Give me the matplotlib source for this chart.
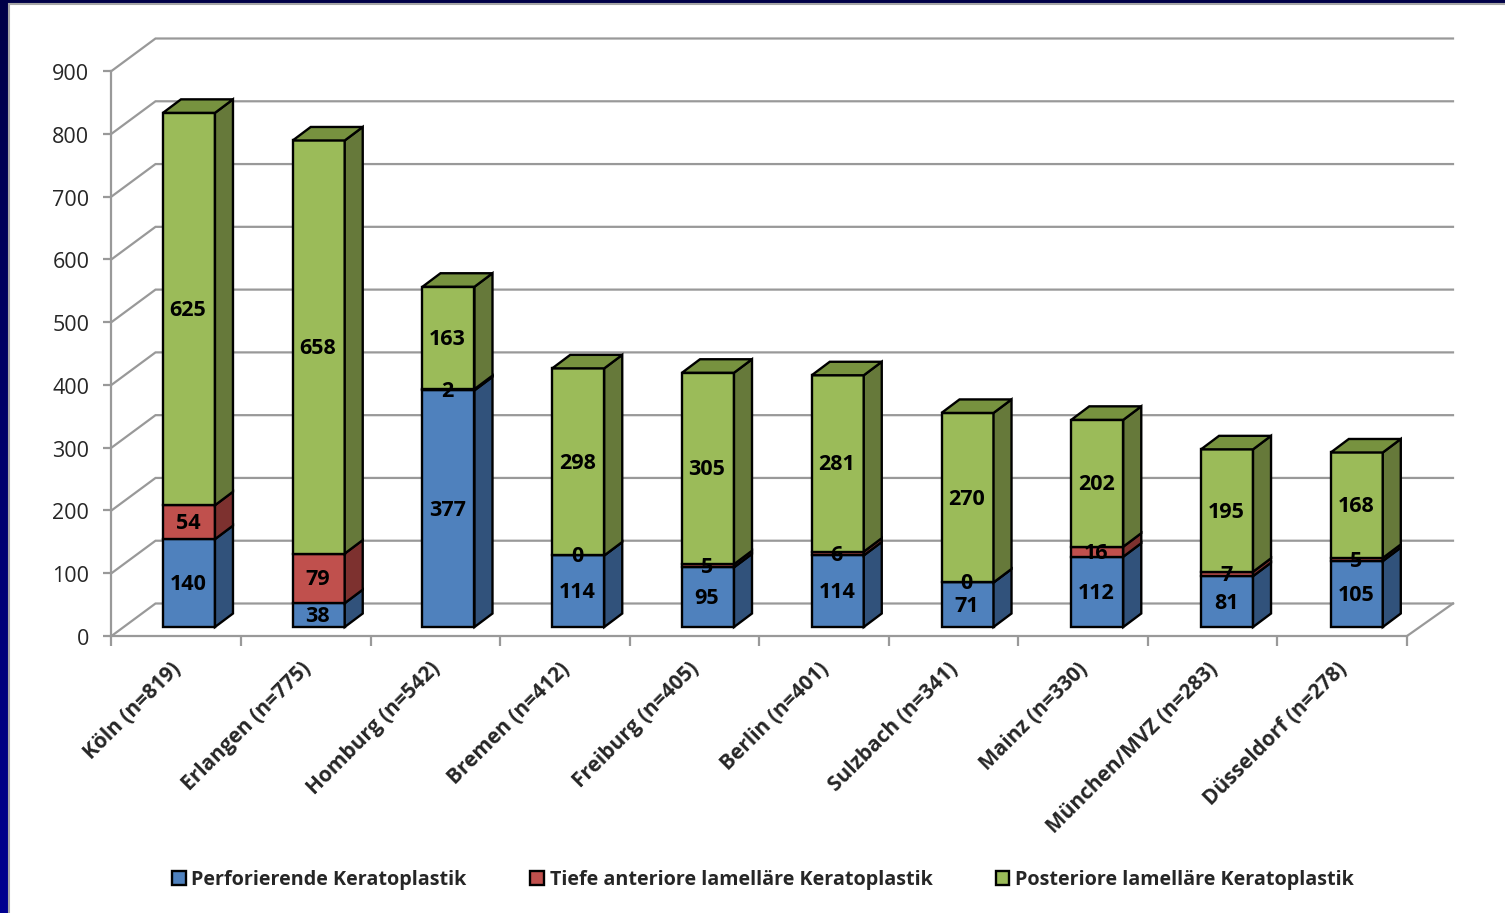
import matplotlib
matplotlib.use("Agg")
import matplotlib.pyplot as plt
import numpy as np
from matplotlib.patches import Polygon, Rectangle
from matplotlib.transforms import ScaledTranslation

plt.rcParams['font.family'] = ['Open Sans', 'DejaVu Sans']

cities = ['Köln (n=819)', 'Erlangen (n=775)', 'Homburg (n=542)', 'Bremen (n=412)',
          'Freiburg (n=405)', 'Berlin (n=401)', 'Sulzbach (n=341)', 'Mainz (n=330)',
          'München/MVZ (n=283)', 'Düsseldorf (n=278)']
perforierend = [140, 38, 377, 114, 95, 114, 71, 112, 81, 105]
anterior = [54, 79, 2, 0, 5, 6, 0, 16, 7, 5]
posterior = [625, 658, 163, 298, 305, 281, 270, 202, 195, 168]
y_ticks = [0, 100, 200, 300, 400, 500, 600, 700, 800, 900]

series_names = ['Perforierende Keratoplastik', 'Tiefe anteriore lamelläre Keratoplastik',
                'Posteriore lamelläre Keratoplastik']
front_colors = ['#4F81BD', '#C0504D', '#9BBB59']
side_colors = ['#31527B', '#7D312F', '#66793A']
top_color = '#77923F'
grid_color = '#999999'
text_color = '#262626'

W, H = 1505, 913
fig = plt.figure(figsize=(W / 100, H / 100), dpi=100, facecolor='white')

# navy slide background behind the white panel
bg = fig.add_axes([0, 0, 1, 1], zorder=-1)
bg.axis('off')
bg.imshow(np.linspace(0, 1, 200).reshape(-1, 1), extent=[0, W, H, 0], aspect='auto',
          cmap=matplotlib.colors.LinearSegmentedColormap.from_list('navy', ['#000048', '#000090']))
bg.add_patch(Rectangle((9, 4), W, H, facecolor='white', edgecolor='#a6a6a6', lw=1.5))
bg.set_xlim(0, W)
bg.set_ylim(H, 0)

# front plane of the chart box, in figure pixels
left, right, y0, y900 = 111.5, 1407, 636, 71
ax = fig.add_axes([left / W, 1 - y0 / H, (right - left) / W, (y0 - y900) / H])
ax.patch.set_alpha(0)
ax.set_xlim(-0.5, 9.5)
ax.set_ylim(0, 900)

px_x = 10 / (right - left)
px_y = 900 / (y0 - y900)

# depth offsets: wall, bar front, bar side
wall_dx, wall_dy = 44 * px_x, 32.5 * px_y
bar_dx, bar_dy = 12.7 * px_x, 9 * px_y
side_dx, side_dy = 18 * px_x, 13.5 * px_y
bar_w = 52 * px_x

# wall gridlines and their diagonals on the side wall
for t in y_ticks:
    ax.plot([-0.5, -0.5 + wall_dx, 9.5 + wall_dx + 2 * px_x], [t, t + wall_dy, t + wall_dy],
            color=grid_color, lw=1.6, clip_on=False, zorder=1, solid_joinstyle='miter')
ax.plot([9.5, 9.5 + wall_dx + 2 * px_x], [0, wall_dy], color=grid_color, lw=1.6, clip_on=False, zorder=1)

x = np.arange(len(cities)) * 1.0016 + bar_dx
bottom = np.full(len(cities), bar_dy)
edge = dict(edgecolor='black', linewidth=1.7, joinstyle='miter', clip_on=False)

handles = []
for k, vals in enumerate([perforierend, anterior, posterior]):
    vals = np.array(vals)
    bars = ax.bar(x, vals, bar_w, bottom=bottom, color=front_colors[k], zorder=3 + k,
                  label=series_names[k], **edge)
    handles.append(bars)
    for xi, b, v in zip(x, bottom, vals):
        xr = xi + bar_w / 2
        ax.add_patch(Polygon([(xr, b), (xr + side_dx, b + side_dy),
                              (xr + side_dx, b + v + side_dy), (xr, b + v)],
                             facecolor=side_colors[k], zorder=3 + k, **edge))
        ax.text(xi - 1 * px_x, b + v / 2 - 1.5 * px_y, str(v), ha='center', va='center', fontsize=15.5,
                fontweight='bold', color='black', zorder=10)
    bottom = bottom + vals

# caps on top of the stacks
for xi, b in zip(x, bottom):
    xl, xr = xi - bar_w / 2, xi + bar_w / 2
    ax.add_patch(Polygon([(xl, b), (xr, b), (xr + side_dx, b + side_dy),
                          (xl + side_dx, b + side_dy)],
                         facecolor=top_color, zorder=7, **edge))

for s in ['top', 'right']:
    ax.spines[s].set_visible(False)
for s in ['left', 'bottom']:
    ax.spines[s].set_color(grid_color)
    ax.spines[s].set_linewidth(1.6)

ax.set_yticks(y_ticks)
ax.tick_params(axis='y', length=6, width=1.6, color=grid_color, labelsize=15.5,
               labelcolor=text_color, pad=10)
for lab in ax.get_yticklabels():
    lab.set_transform(lab.get_transform() + ScaledTranslation(0, -1 / 100, fig.dpi_scale_trans))

ax.set_xticks(np.arange(len(cities)))
ax.set_xticklabels(cities, rotation=45, ha='right', rotation_mode='anchor', fontsize=15,
                   fontweight='bold', color=text_color)
ax.set_xticks(np.arange(-0.5, 10), minor=True)
ax.tick_params(axis='x', which='major', length=0, pad=16)
ax.tick_params(axis='x', which='minor', length=7, width=1.6, color=grid_color)
for lab in ax.get_xticklabels():
    lab.set_transform(lab.get_transform() + ScaledTranslation(-6 / 100, 0, fig.dpi_scale_trans))

fig.legend(handles=handles, loc='center', bbox_to_anchor=(763 / W, 1 - 880 / H), ncol=3,
           frameon=False, handlelength=0.7, handleheight=0.7,
           handletextpad=0.3, columnspacing=3.2,
           prop={'size': 14.2, 'weight': 'bold'}, labelcolor=text_color)

fig.savefig('out.png', dpi=100)
